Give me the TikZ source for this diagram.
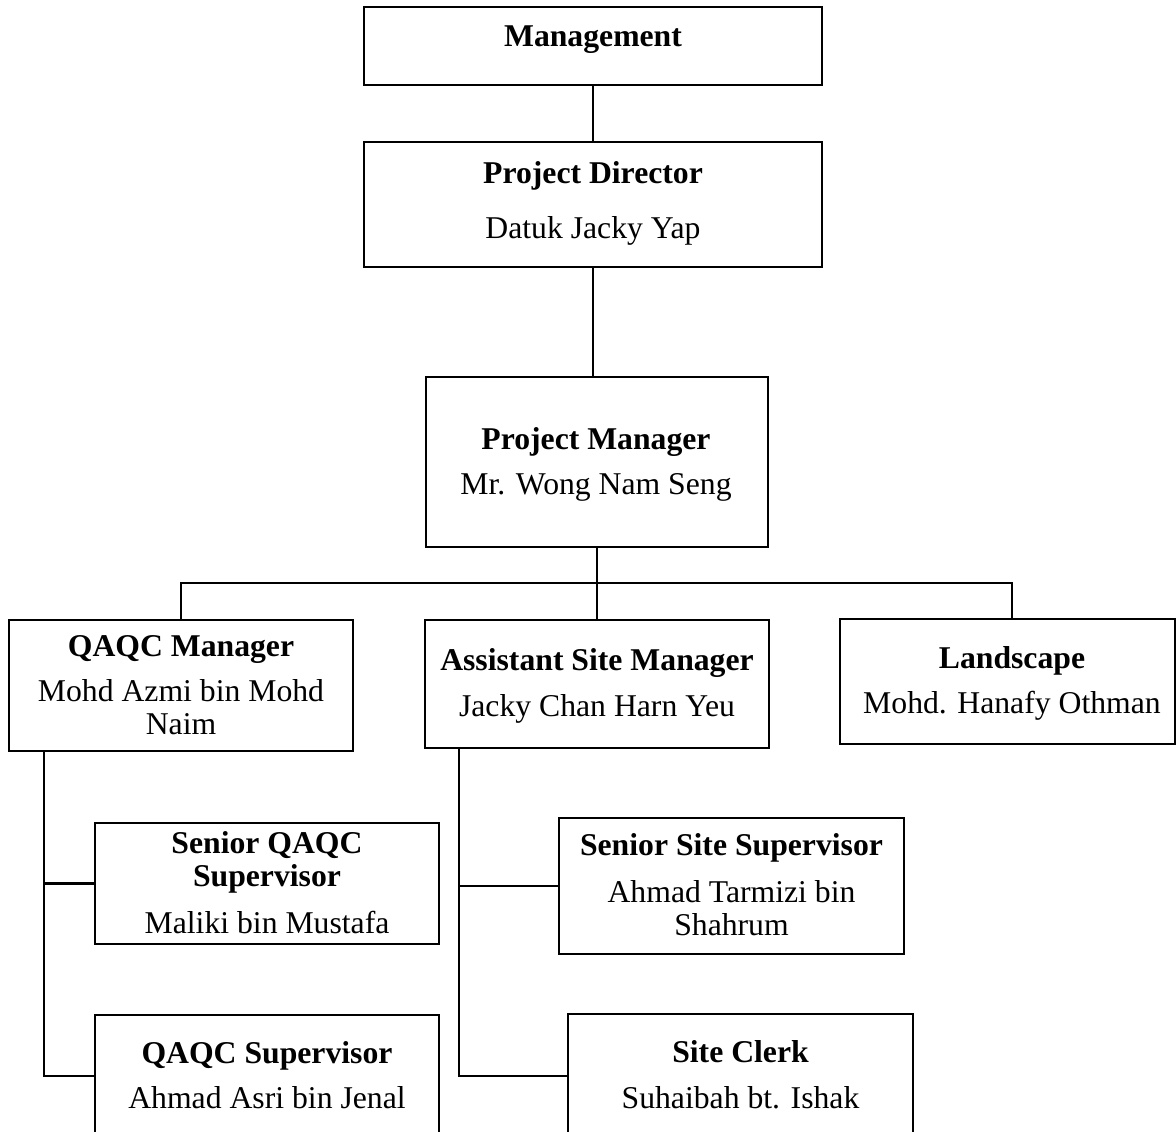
\documentclass[tikz,border=0pt]{standalone}
\usepackage{fontspec}
\setmainfont{Liberation Serif}
\begin{document}
\begin{tikzpicture}[x=1pt,y=-1pt,
  box/.style={draw=black,line width=2.6pt,rectangle,inner sep=0pt,fill=none},
  ttl/.style={font=\fontsize{31.7}{38}\selectfont\bfseries,inner sep=0pt,anchor=base},
  nm/.style={font=\fontsize{31.7}{38}\selectfont,inner sep=0pt,anchor=base},
  conn/.style={draw=black,line width=2.6pt}]
\clip (0,0) rectangle (1176,1132);
\fill[white] (0,0) rectangle (1176,1132);
% boxes
\node[box,minimum width=458pt,minimum height=78pt] (mgmt) at (593,46) {};
\node[box,minimum width=458pt,minimum height=125pt] (pd) at (593,204.5) {};
\node[box,minimum width=342pt,minimum height=170pt] (pm) at (597,462) {};
\node[box,minimum width=344pt,minimum height=131pt] (qm) at (181,685.5) {};
\node[box,minimum width=344pt,minimum height=128pt] (asm) at (597,684) {};
\node[box,minimum width=335pt,minimum height=125pt] (land) at (1007.5,681.5) {};
\node[box,minimum width=344pt,minimum height=121pt] (sq) at (267,883.5) {};
\node[box,minimum width=344pt,minimum height=135pt] (qs) at (267,1082.5) {};
\node[box,minimum width=345pt,minimum height=136pt] (sss) at (731.5,886) {};
\node[box,minimum width=345pt,minimum height=136pt] (sc) at (740.5,1082) {};
% texts
\node[ttl] (t1) at (593,47) {Management};
\node[ttl] (t2) at (593,183) {Project Director};
\node[nm]  (n2) at (593,238) {Datuk Jacky Yap};
\node[ttl] (t3) at (596,449) {Project Manager};
\node[nm]  (n3) at (596,494) {Mr. Wong Nam Seng};
\node[ttl] (t4) at (181,656) {QAQC Manager};
\node[nm]  (n4a) at (181,701) {Mohd Azmi bin Mohd};
\node[nm]  (n4b) at (181,734) {Naim};
\node[ttl] (t5) at (597,670) {Assistant Site Manager};
\node[nm]  (n5) at (597,716) {Jacky Chan Harn Yeu};
\node[ttl] (t6) at (1012,668) {Landscape};
\node[nm]  (n6) at (1012,713) {Mohd. Hanafy Othman};
\node[ttl] (t7a) at (267,853) {Senior QAQC};
\node[ttl] (t7b) at (267,886) {Supervisor};
\node[nm]  (n7) at (267,933) {Maliki bin Mustafa};
\node[ttl] (t8) at (267,1063) {QAQC Supervisor};
\node[nm]  (n8) at (267,1108) {Ahmad Asri bin Jenal};
\node[ttl] (t9) at (731.5,855) {Senior Site Supervisor};
\node[nm]  (n9a) at (731.5,902) {Ahmad Tarmizi bin};
\node[nm]  (n9b) at (731.5,935) {Shahrum};
\node[ttl] (t10) at (740.5,1062) {Site Clerk};
\node[nm]  (n10) at (740.5,1108) {Suhaibah bt. Ishak};
% coordinates
\coordinate (bl) at (181,583);
\coordinate (br) at (1012,583);
\coordinate (lvt) at (44,751);
\coordinate (lvb) at (44,1076);
\coordinate (qsin) at (95,1076);
\coordinate (rvt) at (459,748);
\coordinate (rvb) at (459,1076);
\coordinate (scin) at (568,1076);
% connectors
\draw[conn] (mgmt.south) -- (pd.north);
\draw[conn] (pd.south) -- (pd.south |- pm.north);
\draw[conn] (pm.south) -- (asm.north);
\draw[conn] (qm.north) -- (bl) -- (br) -- (br |- land.north);
\draw[conn] (lvt) -- (lvb) -- (qsin);
\draw[conn] (lvt |- sq.west) -- (sq.west);
\draw[conn] (rvt) -- (rvb) -- (scin);
\draw[conn] (rvt |- sss.west) -- (sss.west);
\end{tikzpicture}
\end{document}
